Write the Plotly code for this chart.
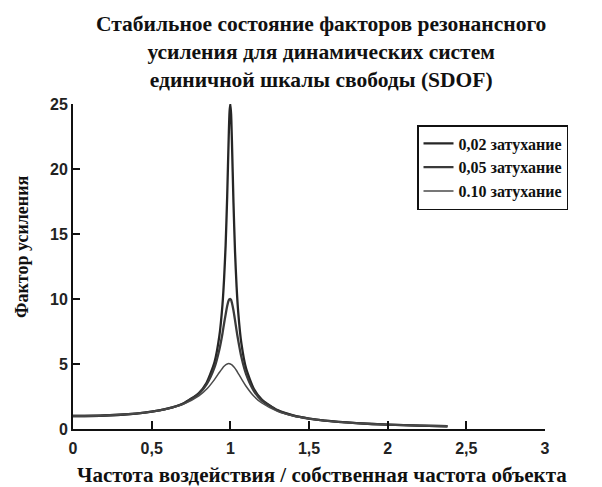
import plotly.graph_objects as go

# Frequency ratio (forcing / natural frequency)
freq_ratio = [0.0, 0.2, 0.4, 0.5, 0.6, 0.7, 0.8, 0.85, 0.9, 0.93, 0.95, 0.96, 0.97, 0.98, 0.99,
              0.995, 1.0, 1.005, 1.01, 1.02, 1.03, 1.04, 1.05, 1.07, 1.1, 1.15, 1.2, 1.3, 1.4,
              1.5, 1.6, 1.8, 2.0, 2.2, 2.38]

# Amplification factor
amp_002 = [1.0, 1.04, 1.19, 1.33, 1.56, 1.96, 2.77, 3.58, 5.17, 7.14, 9.56, 11.5, 14.1, 17.9, 22.6,
           24.4, 25.0, 24.2, 22.2, 17.4, 13.6, 10.9, 9.0, 6.6, 4.66, 3.07, 2.26, 1.45, 1.04,
           0.8, 0.64, 0.45, 0.33, 0.26, 0.21]
amp_005 = [1.0, 1.04, 1.19, 1.33, 1.56, 1.94, 2.71, 3.45, 4.76, 6.1, 7.35, 8.1, 8.8, 9.46, 9.9,
           9.98, 10.0, 9.93, 9.71, 9.12, 8.36, 7.55, 6.82, 5.55, 4.22, 2.92, 2.19, 1.42, 1.03,
           0.8, 0.64, 0.45, 0.33, 0.26, 0.21]
amp_010 = [1.0, 1.04, 1.185, 1.32, 1.54, 1.89, 2.54, 3.07, 3.82, 4.35, 4.68, 4.82, 4.93, 5.0, 5.03,
           5.02, 5.0, 4.97, 4.93, 4.81, 4.66, 4.48, 4.28, 3.87, 3.29, 2.52, 2.0, 1.36, 1.0,
           0.78, 0.63, 0.44, 0.33, 0.26, 0.21]

series_names = ["0,02 затухание", "0,05 затухание", "0.10 затухание"]
x_ticks = [0, 0.5, 1, 1.5, 2, 2.5, 3]
x_tick_text = ["0", "0,5", "1", "1,5", "2", "2,5", "3"]
y_ticks = [0, 5, 10, 15, 20, 25]

title_text = ("Стабильное состояние факторов резонансного<br>"
              "усиления для динамических систем<br>"
              "единичной шкалы свободы (SDOF)")
x_title = "Частота воздействия / собственная частота объекта"
y_title = "Фактор усиления"

SERIF = "Liberation Serif, Times New Roman, serif"
SANS = "Liberation Sans, Arial, sans-serif"

fig = go.Figure()
styles = [("#262626", 2.3), ("#3a3a3a", 2.3), ("#4a4a4a", 1.5)]
for name, ys, (col, w) in zip(series_names, [amp_002, amp_005, amp_010], styles):
    fig.add_trace(go.Scatter(x=freq_ratio, y=ys, mode="lines", name="<b>" + name + "</b>",
                             line=dict(color=col, width=w, shape="spline", smoothing=0.6)))

L, R, T, B = 73, 57, 104, 58
W, H = 602, 487
PH = H - T - B
PW = W - L - R

def px_x(p):
    return (p - L) / PW

def px_y(p):
    return (H - B - p) / PH

fig.update_layout(
    width=W, height=H,
    margin=dict(l=L, r=R, t=T, b=B),
    paper_bgcolor="white", plot_bgcolor="white",
    showlegend=True,
    legend=dict(x=px_x(417), y=px_y(125), xanchor="left", yanchor="top",
                bordercolor="#111", borderwidth=1.5, bgcolor="white",
                font=dict(family=SERIF, size=16, color="#111"),
                tracegroupgap=0, itemwidth=30),
    hovermode=False,
)

fig.update_xaxes(range=[0, 3], tickvals=x_ticks, ticktext=x_tick_text,
                 ticks="inside", ticklen=8, tickwidth=1.5, tickcolor="#111",
                 ticklabelstandoff=4,
                 showline=True, linecolor="#111", linewidth=2, showgrid=False,
                 zeroline=False, tickfont=dict(family=SANS, size=16, color="#222", weight="bold"))
fig.update_yaxes(range=[0, 25], tickvals=y_ticks,
                 ticks="inside", ticklen=7, tickwidth=1.5, tickcolor="#111",
                 showline=True, linecolor="#111", linewidth=2, showgrid=False,
                 zeroline=False, tickfont=dict(family=SANS, size=16, color="#222", weight="bold"))

fig.add_annotation(text="<b>" + title_text + "</b>", xref="paper", yref="paper",
                   x=px_x(321), y=px_y(10), xanchor="center", yanchor="top",
                   showarrow=False, align="center",
                   font=dict(family=SERIF, size=21.5, color="#111"))
fig.add_annotation(text="<b>" + x_title + "</b>", xref="paper", yref="paper",
                   x=px_x(322), y=px_y(475), xanchor="center", yanchor="middle",
                   showarrow=False, font=dict(family=SERIF, size=21, color="#111"))
fig.add_annotation(text="<b>" + y_title + "</b>", xref="paper", yref="paper",
                   x=px_x(22), y=px_y(247), xanchor="center", yanchor="middle",
                   textangle=-90, showarrow=False,
                   font=dict(family=SERIF, size=18, color="#111"))

fig.write_html("out.html")
